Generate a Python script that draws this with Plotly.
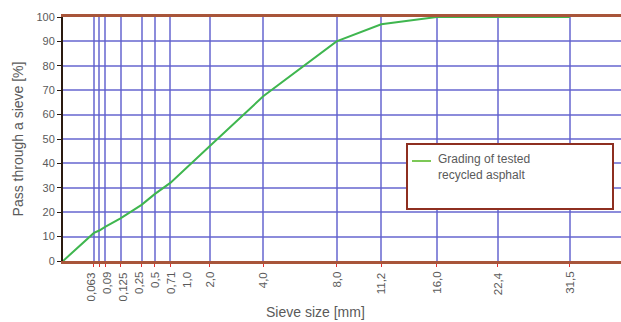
import numpy as np
import plotly.graph_objects as go

# Data
sieve_sizes = [0, 0.063, 0.09, 0.125, 0.25, 0.5, 0.71, 1.0, 2.0, 4.0, 8.0, 11.2, 16.0, 22.4, 31.5]
passing = [0, 11.5, 12.5, 14, 17.5, 23, 27.5, 32, 47, 67.5, 90, 97, 100, 100, 100]
tick_sizes = [0.063, 0.09, 0.125, 0.25, 0.5, 0.71, 1.0, 2.0, 4.0, 8.0, 11.2, 16.0, 22.4, 31.5]
tick_labels = ["0,063", "0,09", "0,125", "0,25", "0,5", "0,71", "1,0", "2,0", "4,0",
               "8,0", "11,2", "16,0", "22,4", "31,5"]
series_name = "Grading of tested<br>recycled asphalt"

POWER = 0.45  # grading-curve power scale
X_MAX = 5.2   # axis end in transformed units


def tr(v):
    return np.power(np.asarray(v, dtype=float), POWER)


GRID = "rgba(95,95,205,0.72)"
BROWN = "#a8553a"
TXT = "#5a5a5a"
GREEN = "#3fb64f"

# plot-area pixel geometry
L, R, T, B = 63, 621, 17, 261
W, H = R - L, B - T


def px(x):
    return (x - L) / W


def py(y):
    return (B - y) / H


# Tick label positions: spread crowded labels apart (min 16 px), as in the reference
tick_x = tr(tick_sizes)
tick_px = tick_x / X_MAX * W
label_px = []
for p in tick_px:
    label_px.append(p - 3 if not label_px else max(p, label_px[-1] + 16))
label_x = np.array(label_px) / W * X_MAX

fig = go.Figure()
fig.add_trace(go.Scatter(
    x=tr(sieve_sizes), y=passing, mode="lines", name=series_name,
    line=dict(color=GREEN, width=2), showlegend=False,
))

annotations = [
    dict(text=t, xref="x", yref="paper", x=float(xv), y=py(270),
         xanchor="center", yanchor="top", textangle=-90, showarrow=False,
         font=dict(size=11.5, color=TXT))
    for t, xv in zip(tick_labels, label_x)
]
annotations += [
    dict(text=series_name, xref="paper", yref="paper",
         x=px(436), y=py(167), xanchor="left", yanchor="middle", align="left",
         showarrow=False, font=dict(size=12, color=TXT)),
    dict(text="Sieve size [mm]", xref="paper", yref="paper",
         x=px(315), y=py(312), xanchor="center", yanchor="middle",
         showarrow=False, font=dict(size=14, color=TXT)),
]

fig.update_layout(
    width=621, height=322,
    margin=dict(l=L, r=621 - R, t=T, b=322 - B, autoexpand=False),
    paper_bgcolor="white", plot_bgcolor="white",
    font=dict(family="Liberation Sans, Arial, sans-serif", color=TXT, size=11),
    showlegend=False,
    xaxis=dict(
        range=[0, X_MAX], automargin=False,
        tickmode="array", tickvals=tick_x, ticktext=tick_labels,
        showticklabels=False,
        showgrid=True, gridcolor=GRID, gridwidth=1.6,
        zeroline=False,
        showline=True, linecolor=BROWN, linewidth=2.5, mirror=True,
        ticks="outside", ticklen=3, tickcolor="#e03030", tickwidth=1,
    ),
    yaxis=dict(
        range=[0, 100], tickmode="linear", tick0=0, dtick=10, automargin=False,
        showgrid=True, gridcolor=GRID, gridwidth=1.6,
        zeroline=False,
        showline=True, linecolor="#2a1a10", linewidth=2,
        ticks="outside", ticklen=4, tickcolor="#2a1a10",
        tickfont=dict(size=11, color=TXT, family="Liberation Sans Narrow, Liberation Sans, Arial"),
        title=dict(text="Pass through a sieve [%]", font=dict(size=14, color=TXT), standoff=10),
    ),
    shapes=[
        dict(type="rect", xref="paper", yref="paper",
             x0=px(407), x1=px(613), y0=py(209), y1=py(144),
             line=dict(color="#8e2f20", width=2), fillcolor="white", layer="above"),
        dict(type="line", xref="paper", yref="paper",
             x0=px(412), x1=px(431), y0=py(161), y1=py(161),
             line=dict(color="#7cc856", width=2), layer="above"),
    ],
    annotations=annotations,
)

fig.write_html(
    "out.html",
    config={"displayModeBar": False},
    post_script="document.body.style.margin='0';document.body.style.overflow='hidden';",
)
